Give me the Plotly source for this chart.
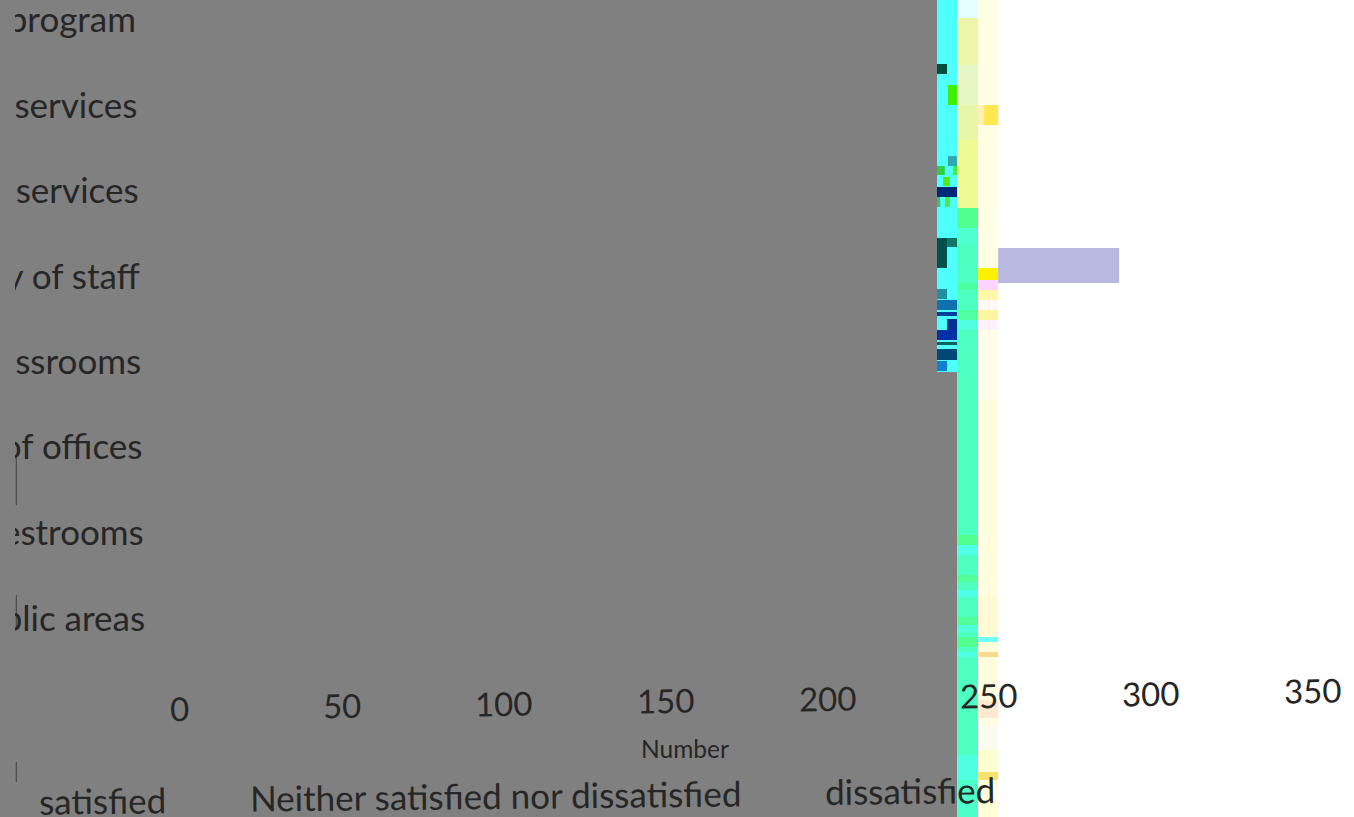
import plotly.graph_objects as go

# Row labels (only the right part survives in the picture; the left is cut off)
row_labels = ["Academic program", "Support services", "Library services", "Availability of staff",
              "Cleanliness of classrooms", "Cleanliness of offices", "Cleanliness of restrooms",
              "Cleanliness of public areas"]
row_centres = [23, 109, 194, 280, 365, 450, 536, 622]
tick_values = [0, 50, 100, 150, 200, 250, 300, 350]
legend_labels = ["satisfied", "Neither satisfied nor dissatisfied", "dissatisfied"]
legend_centres = [-24.1, 97.4, 225.7]
legend_rows = [800, 795, 790]
axis_title = "Number"

# Vertical axis is in image rows (0 at top); horizontal axis is "Number"
gray_edges = [0, 372, 817]
gray_ends = [234, 240.2]

col2_edges = [0, 18, 65, 105, 140, 208, 228, 245, 283, 290, 310, 320, 330, 535, 545, 555, 575, 582, 590, 597,
              617, 625, 632, 637, 647, 652, 657, 755, 780, 817]
col2_colors = ["#e4ffff", "#eef5a8", "#e6f6c4", "#e8f6a8", "#eefa92", "#50ff90", "#50ffd0", "#4dffc0", "#4dffa0",
               "#4dffc0", "#50ffa0", "#50ffe0", "#4dffc0", "#50ff90", "#50ffe8", "#4dffc0", "#50ff98", "#4dffc0",
               "#50ffe8", "#4dffc0", "#50ff98", "#50ffd8", "#4dffc0", "#50ff90", "#4dffc0", "#50ffe8", "#4dffc0",
               "#4dffe0", "#4dffc8"]

col3_edges = [0, 105, 125, 268, 280, 290, 300, 310, 320, 330, 400, 595, 637, 642, 652, 657, 700, 718, 725, 750,
              772, 780, 817]
col3_colors = ["#ffffe4", "#fff0b0", "#ffffe4", "#fff000", "#ffd4ff", "#fff8a8", "#fff8f4", "#fff4a0", "#fff0fc",
               "#ffffe8", "#ffffe0", "#fff9d4", "#70ffff", "#ffffd8", "#ffd890", "#ffffe0", "#ffe8d0", "#ffffe4",
               "#fbfbf0", "#ffffd0", "#f8e070", "#ffffd8"]

block_top = [64, 85, 156, 166, 166, 177, 187, 197, 197, 238, 238, 289, 300, 312, 319, 330, 342, 349, 361, 248,
             105]
block_bottom = [74, 105, 166, 175, 175, 186, 197, 207, 207, 268, 247, 299, 310, 316, 330, 340, 345, 360, 371,
                283, 125]
block_start = [234, 237.4, 237.4, 234, 239, 235.9, 234, 234, 236.5, 234, 237.1, 234, 234, 234, 237.1, 234, 234,
               234, 234, 252.9, 248.6]
block_end = [237.1, 240.2, 240.2, 236.4, 240.2, 238, 240.2, 235, 238, 237.1, 240.2, 237.1, 240.2, 240.2, 240.2,
             240.2, 240.2, 240.2, 237.1, 290.3, 252.9]
block_color = ["#005040", "#40f000", "#30a8b0", "#30d040", "#40f030", "#50e818", "#002878", "#40c060", "#50e840",
               "#005050", "#107868", "#2090a0", "#1070b0", "#0040a0", "#003090", "#0030a8", "#106060", "#004878",
               "#1080d0", "#b8b8e0", "#ffe850"]

# remnants of the cut-off axis line
remnant_tops = [458, 595, 762]
remnant_bottoms = [505, 628, 782]

top, bottom, start, end, color = [], [], [], [], []
for i, c in enumerate(["#808080", "#808080"]):
    top.append(gray_edges[i]); bottom.append(gray_edges[i + 1]); start.append(-60); end.append(gray_ends[i]); color.append(c)
top.append(0); bottom.append(372); start.append(234); end.append(240.2); color.append("#4dffff")
for i, c in enumerate(col2_colors):
    top.append(col2_edges[i]); bottom.append(col2_edges[i + 1]); start.append(240.2); end.append(246.7); color.append(c)
for i, c in enumerate(col3_colors):
    top.append(col3_edges[i]); bottom.append(col3_edges[i + 1]); start.append(246.7); end.append(252.9); color.append(c)
top += block_top; bottom += block_bottom; start += block_start; end += block_end; color += block_color

fig = go.Figure()
fig.add_trace(go.Bar(
    orientation="h",
    y=[(a + b) / 2 for a, b in zip(top, bottom)],
    width=[b - a for a, b in zip(top, bottom)],
    base=start,
    x=[e - s for s, e in zip(start, end)],
    marker=dict(color=color, line_width=0),
    showlegend=False, hoverinfo="skip",
))

FONT = "Lato, Carlito, Calibri, sans-serif"
INK = "#262626"
remnant_x, remnant_y = [], []
for a, b in zip(remnant_tops, remnant_bottoms):
    remnant_x += [-50.6, -50.6, None]
    remnant_y += [a, b, None]
fig.add_trace(go.Scatter(x=remnant_x, y=remnant_y, mode="lines", line=dict(color="#404040", width=1),
                         showlegend=False, hoverinfo="skip"))

# the scanned page is slightly rotated, so everything drifts with position
fig.add_trace(go.Scatter(
    x=[-13.6 + 0.4 * i for i in range(len(row_labels))], y=row_centres,
    mode="text", text=row_labels, textposition="middle left",
    textfont=dict(family=FONT, size=35, color=INK),
    showlegend=False, hoverinfo="skip",
))

annotations = []
for v in tick_values:
    annotations.append(dict(x=v, y=707.5 - 0.0489 * v, xref="x", yref="y", text=str(v), showarrow=False,
                            xanchor="center", yanchor="middle", textangle=-0.86,
                            font=dict(family=FONT, size=33, color=INK)))
annotations.append(dict(x=156, y=748, xref="x", yref="y", text=axis_title, showarrow=False,
                        font=dict(family=FONT, size=24.5, color=INK)))
for t, c, y in zip(legend_labels, legend_centres, legend_rows):
    annotations.append(dict(x=c, y=y, xref="x", yref="y", text=t, showarrow=False, xanchor="center",
                            yanchor="middle", textangle=-0.6, font=dict(family=FONT, size=35, color=INK)))

fig.update_layout(
    width=1354, height=817, margin=dict(l=15, r=0, t=0, b=0, pad=0),
    paper_bgcolor="#808080", plot_bgcolor="#ffffff", barmode="overlay", annotations=annotations,
    font=dict(family=FONT),
    xaxis=dict(range=[-51, 362.9], visible=False, fixedrange=True),
    yaxis=dict(range=[817, 0], visible=False, fixedrange=True),
)
fig.write_html("out.html", config=dict(displayModeBar=False),
               post_script="document.body.style.margin='0';document.body.style.overflow='hidden';")
